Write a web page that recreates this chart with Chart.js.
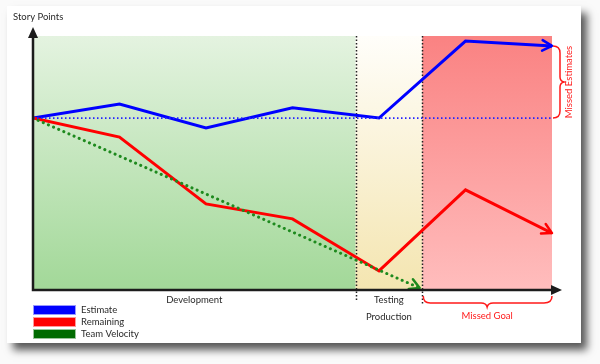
<!DOCTYPE html>
<html>
<head>
<meta charset="utf-8">
<script src="https://cdn.jsdelivr.net/npm/chart.js@4/dist/chart.umd.min.js"></script>
<style>
  html, body { margin: 0; padding: 0; background: #fafafa; }
  canvas { display: block; }
</style>
</head>
<body>
<canvas id="burnChart" width="600" height="364"></canvas>
<script>
// sprint days (x positions) and story point values
const days = [0, 1, 2, 3, 4, 5, 6];
const estimate = [67.7, 73.2, 63.8, 71.7, 67.7, 98.0, 96.1];
const remaining = [67.7, 60.2, 33.9, 28.0, 7.5, 39.4, 22.4];
const velocityDays = [0, 4.47];
const velocity = [67.7, 0.8];
const originalEstimate = 67.7;

// phases along the x axis
const phaseNames = ['Development', 'Testing', 'Missed Goal'];
const phaseEnds = [3.73, 4.5, 6];

const FONT = 'Lato, "Open Sans", sans-serif';

function pts(xs, ys) {
  return xs.map(function (x, i) { return { x: x, y: ys[i] }; });
}

// card, shaded phase regions and dotted phase separators
const backdrop = {
  id: 'backdrop',
  beforeDraw: function (chart) {
    const ctx = chart.ctx;
    const a = chart.chartArea;
    const xs = chart.scales.x;
    ctx.save();
    ctx.fillStyle = '#fafafa';
    ctx.fillRect(0, 0, chart.width, chart.height);
    ctx.shadowColor = 'rgba(0,0,0,0.65)';
    ctx.shadowBlur = 8;
    ctx.shadowOffsetX = 6;
    ctx.shadowOffsetY = 7;
    ctx.fillStyle = '#ffffff';
    ctx.fillRect(7, 6, 574, 337);
    ctx.restore();

    const fills = [
      ['#e4f3e0', '#a2d898'],
      ['#fffefa', '#f4e5b0'],
      ['#fa8282', '#ffbdbd']
    ];
    let start = 0;
    phaseEnds.forEach(function (end, i) {
      const x0 = xs.getPixelForValue(start);
      const x1 = xs.getPixelForValue(end);
      const g = ctx.createLinearGradient(0, a.top, 0, a.bottom);
      g.addColorStop(0, fills[i][0]);
      g.addColorStop(1, fills[i][1]);
      ctx.fillStyle = g;
      ctx.fillRect(x0, a.top, x1 - x0, a.bottom - a.top);
      start = end;
    });

    ctx.save();
    ctx.strokeStyle = '#222';
    ctx.lineWidth = 1.5;
    ctx.setLineDash([1.5, 2]);
    [phaseEnds[0], phaseEnds[1]].forEach(function (v, i) {
      const x = Math.round(xs.getPixelForValue(v)) + 0.5;
      ctx.beginPath();
      ctx.moveTo(x, a.top);
      ctx.lineTo(x, a.bottom + (i === 0 ? 10 : 15));
      ctx.stroke();
    });
    ctx.restore();
  }
};

function chevron(ctx, x, y, ang, size, color, width) {
  ctx.save();
  ctx.strokeStyle = color;
  ctx.lineWidth = width;
  ctx.lineCap = 'round';
  ctx.lineJoin = 'round';
  ctx.beginPath();
  ctx.moveTo(x - size * Math.cos(ang - 0.5), y - size * Math.sin(ang - 0.5));
  ctx.lineTo(x, y);
  ctx.lineTo(x - size * Math.cos(ang + 0.5), y - size * Math.sin(ang + 0.5));
  ctx.stroke();
  ctx.restore();
}

// arrows, axes, braces, captions and legend
const decorations = {
  id: 'decorations',
  afterDatasetsDraw: function (chart) {
    const ctx = chart.ctx;
    const a = chart.chartArea;
    const xs = chart.scales.x;
    const ys = chart.scales.y;

    chart.data.datasets.forEach(function (ds, i) {
      if (!ds.arrow) return;
      const d = chart.getDatasetMeta(i).data;
      const p = d[d.length - 1], q = d[d.length - 2];
      const ang = Math.atan2(p.y - q.y, p.x - q.x);
      chevron(ctx, p.x, p.y, ang, 11, ds.arrowColor || ds.borderColor, 2.5);
    });

    // axes with arrow heads
    ctx.save();
    ctx.strokeStyle = '#1c1c1c';
    ctx.fillStyle = '#1c1c1c';
    ctx.lineWidth = 2.5;
    ctx.beginPath();
    ctx.moveTo(a.left, a.top - 4);
    ctx.lineTo(a.left, a.bottom);
    ctx.lineTo(a.right + 4, a.bottom);
    ctx.stroke();
    ctx.beginPath();
    ctx.moveTo(a.left, a.top - 9);
    ctx.lineTo(a.left - 5, a.top + 2);
    ctx.lineTo(a.left + 5, a.top + 2);
    ctx.closePath();
    ctx.fill();
    ctx.beginPath();
    ctx.moveTo(a.right + 10, a.bottom);
    ctx.lineTo(a.right - 1, a.bottom - 5);
    ctx.lineTo(a.right - 1, a.bottom + 5);
    ctx.closePath();
    ctx.fill();
    ctx.restore();

    // braces
    const gx0 = xs.getPixelForValue(phaseEnds[1]);
    const gx1 = xs.getPixelForValue(phaseEnds[2]);
    const gm = (gx0 + gx1) / 2;
    const by = a.bottom + 13;
    ctx.save();
    ctx.strokeStyle = '#ff1a1a';
    ctx.lineWidth = 1.5;
    ctx.beginPath();
    ctx.moveTo(gx0 + 1, a.bottom + 6);
    ctx.quadraticCurveTo(gx0 + 1, by, gx0 + 8, by);
    ctx.lineTo(gm - 6, by);
    ctx.quadraticCurveTo(gm - 1, by, gm, by + 4);
    ctx.quadraticCurveTo(gm + 1, by, gm + 6, by);
    ctx.lineTo(gx1 - 8, by);
    ctx.quadraticCurveTo(gx1, by, gx1, a.bottom + 6);
    ctx.stroke();

    const ey0 = ys.getPixelForValue(estimate[estimate.length - 1]);
    const ey1 = ys.getPixelForValue(originalEstimate);
    const em = (ey0 + ey1) / 2;
    const bx = a.right + 8;
    ctx.beginPath();
    ctx.moveTo(a.right + 1, ey0);
    ctx.quadraticCurveTo(bx, ey0, bx, ey0 + 7);
    ctx.lineTo(bx, em - 5);
    ctx.quadraticCurveTo(bx, em - 1, bx + 4, em);
    ctx.quadraticCurveTo(bx, em + 1, bx, em + 5);
    ctx.lineTo(bx, ey1 - 7);
    ctx.quadraticCurveTo(bx, ey1, a.right + 1, ey1);
    ctx.stroke();
    ctx.restore();

    // captions
    ctx.save();
    ctx.font = '9.5px ' + FONT;
    ctx.textAlign = 'center';
    ctx.textBaseline = 'middle';
    ctx.fillStyle = '#2a2a2a';
    ctx.fillText(phaseNames[0], (xs.getPixelForValue(0) + xs.getPixelForValue(phaseEnds[0])) / 2, a.bottom + 10);
    const tx = (xs.getPixelForValue(phaseEnds[0]) + xs.getPixelForValue(phaseEnds[1])) / 2;
    ctx.fillText(phaseNames[1], tx, a.bottom + 10);
    ctx.fillText('Production', tx, a.bottom + 27);
    ctx.fillStyle = '#ff1a1a';
    ctx.fillText(phaseNames[2], gm, a.bottom + 26);
    ctx.save();
    ctx.translate(a.right + 17, em);
    ctx.rotate(-Math.PI / 2);
    ctx.fillText('Missed Estimates', 0, 0);
    ctx.restore();
    ctx.fillStyle = '#2a2a2a';
    ctx.textAlign = 'left';
    ctx.fillText('Story Points', 13, 17);

    // legend
    const items = [
      ['Estimate', '#0000ff'],
      ['Remaining', '#ff0000'],
      ['Team Velocity', '#006b00']
    ];
    items.forEach(function (it, i) {
      const y = a.bottom + 15 + i * 12;
      ctx.fillStyle = it[1];
      ctx.fillRect(a.left, y, 43, 10);
      ctx.strokeStyle = 'rgba(255,255,255,0.6)';
      ctx.lineWidth = 1;
      ctx.strokeRect(a.left + 0.5, y + 0.5, 42, 9);
      ctx.fillStyle = '#2a2a2a';
      ctx.fillText(it[0], a.left + 48, y + 5);
    });
    ctx.restore();
  }
};

new Chart(document.getElementById('burnChart'), {
  type: 'line',
  data: {
    datasets: [
      {
        label: 'Original Estimate',
        data: pts([days[0], days[days.length - 1]], [originalEstimate, originalEstimate]),
        borderColor: '#2323ff',
        borderWidth: 1.8,
        borderDash: [1.5, 2.5],
        pointRadius: 0
      },
      {
        label: 'Team Velocity',
        data: pts(velocityDays, velocity),
        borderColor: '#1e8a1e',
        borderWidth: 3,
        borderDash: [0.1, 5.5],
        borderCapStyle: 'round',
        pointRadius: 0,
        arrow: true,
        arrowColor: '#1e8a1e'
      },
      {
        label: 'Remaining',
        data: pts(days, remaining),
        borderColor: '#ff0000',
        borderWidth: 3,
        pointRadius: 0,
        arrow: true
      },
      {
        label: 'Estimate',
        data: pts(days, estimate),
        borderColor: '#0000ff',
        borderWidth: 3,
        pointRadius: 0,
        arrow: true
      }
    ]
  },
  options: {
    responsive: false,
    animation: false,
    devicePixelRatio: 1,
    layout: { padding: { left: 33, top: 36, right: 48, bottom: 74 } },
    scales: {
      x: { type: 'linear', min: 0, max: 6, display: false },
      y: { min: 0, max: 100, display: false }
    },
    plugins: {
      legend: { display: false },
      tooltip: { enabled: false }
    }
  },
  plugins: [backdrop, decorations]
});
</script>
</body>
</html>
